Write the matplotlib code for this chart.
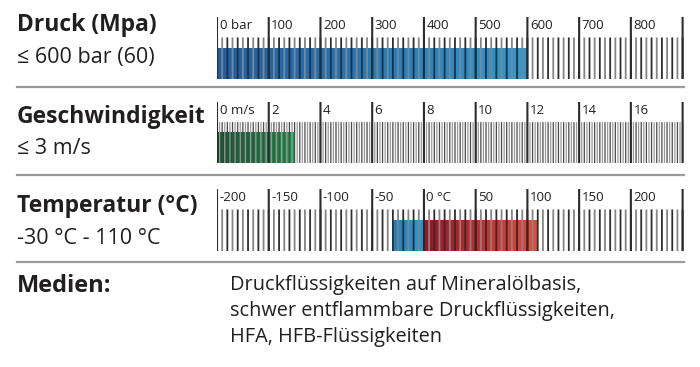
import numpy as np
import matplotlib
matplotlib.use("Agg")
import matplotlib.pyplot as plt
from matplotlib.colors import LinearSegmentedColormap
from matplotlib.lines import Line2D

plt.rcParams['font.family'] = ['Open Sans', 'DejaVu Sans']

# --- data -------------------------------------------------------------
press_major = [0, 100, 200, 300, 400, 500, 600, 700, 800, 900]
press_labels = ['0 bar', '100', '200', '300', '400', '500', '600', '700', '800', '']
press_minor_step = 10
press_range = [(0, 600)]

speed_major = [0, 2, 4, 6, 8, 10, 12, 14, 16, 18]
speed_labels = ['0 m/s', '2', '4', '6', '8', '10', '12', '14', '16', '']
speed_minor_step = 0.1
speed_range = [(0, 3)]

temp_major = [-200, -150, -100, -50, 0, 50, 100, 150, 200, 250]
temp_labels = ['-200', '-150', '-100', '-50', '0 °C', '50', '100', '150', '200', '']
temp_minor_step = 5
temp_range = [(-30, 0), (0, 110)]

titles = ['Druck (Mpa)', 'Geschwindigkeit', 'Temperatur (°C)']
subtitles = ['≤ 600 bar (60)', '≤ 3 m/s', '-30 °C - 110 °C']
medien_title = 'Medien:'
medien_lines = ['Druckflüssigkeiten auf Mineralölbasis,',
                'schwer entflammbare Druckflüssigkeiten,',
                'HFA, HFB-Flüssigkeiten']

# --- styles -----------------------------------------------------------
blue = LinearSegmentedColormap.from_list('b', ['#1a5ea8', '#2a9bd8'])
green = LinearSegmentedColormap.from_list('g', ['#0b4f2a', '#15a04e'])
cold = LinearSegmentedColormap.from_list('c', ['#1f7fc2', '#2a9ad6'])
red = LinearSegmentedColormap.from_list('r', ['#9a1424', '#ea4a3a'])
ink = '#231f20'

W, H = 700, 367
fig = plt.figure(figsize=(7, 3.67), dpi=100)

left_px, right_px = 217, 684


def scale_axes(top_px, bottom_px):
    return fig.add_axes([left_px / W, 1 - bottom_px / H,
                         (right_px - left_px) / W, (bottom_px - top_px) / H])


def draw_scale(ax, major, labels, minor_step, ranges, cmaps,
               minor_w, minor_cols):
    lo, hi = major[0], major[-1]
    grad = np.linspace(0, 1, 256).reshape(1, -1)
    for (a, b), cm in zip(ranges, cmaps):
        ax.imshow(grad, cmap=cm, extent=(a, b, 0, 0.5), aspect='auto',
                  zorder=1)
    minor = np.arange(lo, hi + minor_step / 2, minor_step)
    cols = [minor_cols[i % len(minor_cols)] for i in range(len(minor))]
    ax.vlines(minor, 0, 0.67, colors=cols, linewidth=minor_w, zorder=2,
              snap=False)
    ax.vlines(major, 0, 1, colors='#2b2b2b', linewidth=1.5, zorder=3,
              snap=False)
    for v, lab in zip(major, labels):
        ax.annotate(lab, (v, 1), xytext=(1.8, -1.5), textcoords='offset points',
                    ha='left', va='top', fontsize=9.5, color=ink)
    ax.set_xlim(lo, hi + (hi - lo) * 0.003)
    ax.set_ylim(0, 1)
    ax.axis('off')


ax1 = scale_axes(17, 79)
draw_scale(ax1, press_major, press_labels, press_minor_step, press_range,
           [blue], 1.3, ['#2e2e2e', '#858585'])

ax2 = scale_axes(102, 163)
draw_scale(ax2, speed_major, speed_labels, speed_minor_step, speed_range,
           [green], 0.9, ['#4a4a4a', '#9a9a9a'])

ax3 = scale_axes(189, 251)
draw_scale(ax3, temp_major, temp_labels, temp_minor_step, temp_range,
           [cold, red], 1.3, ['#2e2e2e', '#858585'])

# left column text
title_y = [25, 117, 206]
sub_y = [57, 148, 238]
for t, s, ty, sy in zip(titles, subtitles, title_y, sub_y):
    fig.text(17 / W, 1 - ty / H, t, fontsize=16.5, fontweight='bold',
             color=ink, va='center', ha='left')
    fig.text(17 / W, 1 - sy / H, s, fontsize=15.5, color=ink,
             va='center', ha='left')

# separators
for y in [87, 175, 262]:
    fig.add_artist(Line2D([17 / W, 684 / W], [1 - y / H, 1 - y / H],
                          color='#9a9a9a', linewidth=1.6))

fig.text(17 / W, 1 - 286 / H, medien_title, fontsize=17, fontweight='bold',
         color=ink, va='center', ha='left')
for i, line in enumerate(medien_lines):
    fig.text(230 / W, 1 - (285 + 26 * i) / H, line, fontsize=14.3,
             color=ink, va='center', ha='left')

fig.savefig('out.png', dpi=100, facecolor='white')
